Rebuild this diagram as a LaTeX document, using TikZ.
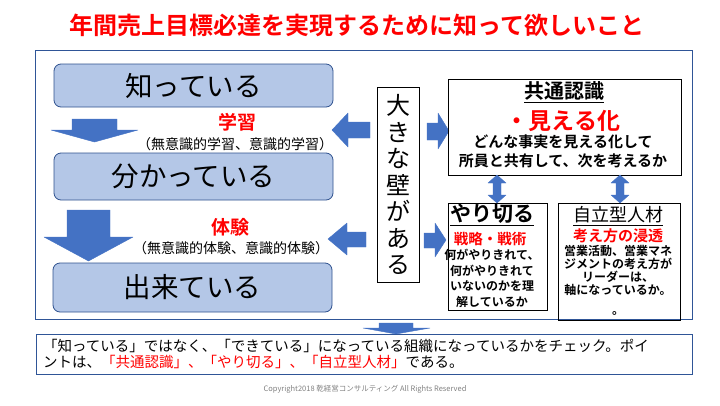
\documentclass[tikz,border=0pt]{standalone}
\usepackage{fontspec}
\setmainfont{Noto Sans CJK JP}[BoldFont={Noto Sans CJK JP Bold}]
\usepackage{tikz}
\definecolor{boxblue}{HTML}{B4C7E7}
\definecolor{lineblue}{HTML}{2F528F}
\definecolor{arrowblue}{HTML}{4472C4}
\definecolor{frameblue}{HTML}{2F5597}

\begin{document}
\begin{tikzpicture}[x=1pt, y=-1pt,
	stagebox/.style={draw=lineblue, line width=0.8pt, rounded corners=7pt, fill=boxblue, minimum width=279pt, inner sep=0pt, font=\fontsize{27.5}{30}\selectfont},
	plainbox/.style={draw=black, line width=0.9pt, inner sep=0pt},
	blockarrow/.style={fill=arrowblue, draw=arrowblue, line width=0.4pt, line join=round},
	redtext/.style={text=red, inner sep=0pt, font=\bfseries\fontsize{#1}{#1}\selectfont},
	bodytext/.style={inner sep=0pt, align=center}]
	\useasboundingbox (0,0) rectangle (720,405);

	% title and frame
	\node[redtext=24] (title) at (357,25) {年間売上目標必達を実現するために知って欲しいこと};
	\draw[frameblue, line width=1pt] (35,50) rectangle (692,319);

	% left column
	\node[stagebox, minimum height=43pt] (know) at (193.5,85.5) {知っている};
	\node[stagebox, minimum height=47pt] (understand) at (193.5,176.5) {分かっている};
	\node[stagebox, minimum height=49pt] (can) at (192.5,287.5) {出来ている};

	\node[redtext=19] (learn) at (237,122) {学習};
	\node[inner sep=0pt, font=\fontsize{14}{16}\selectfont] (learnsub) at (235,144) {（無意識的学習、意識的学習）};
	\node[redtext=19] (exp) at (230,227) {体験};
	\node[inner sep=0pt, font=\fontsize{14}{16}\selectfont] (expsub) at (231,248) {（無意識的体験、意識的体験）};

	\fill[blockarrow] (72,119) -- (117,119) -- (117,130) -- (138,130) -- (94.5,142) -- (51,130) -- (72,130) -- cycle;
	\fill[blockarrow] (67,210) -- (110,210) -- (110,237) -- (133,237) -- (88.5,261) -- (44,237) -- (67,237) -- cycle;

	% the wall
	\node[plainbox, minimum width=42pt, minimum height=195pt, align=center, font=\fontsize{24}{26.5}\selectfont] (wall) at (398,184.5) {大\\き\\な\\壁\\が\\あ\\る};

	\fill[blockarrow] (370,122) -- (348,122) -- (348,113) -- (332,130) -- (348,147) -- (348,138) -- (370,138) -- cycle;
	\fill[blockarrow] (366,232) -- (347,232) -- (347,223) -- (328,239) -- (347,255) -- (347,247) -- (366,247) -- cycle;
	\fill[blockarrow] (427,123) -- (438,123) -- (438,113) -- (449,131) -- (438,149) -- (438,140) -- (427,140) -- cycle;
	\fill[blockarrow] (424,233) -- (435,233) -- (435,223) -- (446,240) -- (435,257) -- (435,248) -- (424,248) -- cycle;

	% right column
	\node[plainbox, minimum width=233pt, minimum height=96pt] (common) at (564.5,127) {};
	\node[inner sep=0pt, font=\bfseries\fontsize{20}{22}\selectfont] (commonhead) at (564,92) {\underline{共通認識}};
	\node[redtext=23] (visible) at (563,121) {・見える化};
	\node[bodytext, font=\bfseries\fontsize{15}{19}\selectfont] (commontext) at (563,151.5) {どんな事実を見える化して\\所員と共有して、次を考えるか};

	\node[plainbox, minimum width=99pt, minimum height=107pt] (doit) at (497.5,256.5) {};
	\node[inner sep=0pt, font=\bfseries\fontsize{21}{23}\selectfont] (doithead) at (492,215) {\underline{やり切る}};
	\node[redtext=14.5] (strategy) at (490,238.5) {戦略・戦術};
	\node[bodytext, font=\bfseries\fontsize{12}{15.5}\selectfont] (doittext) at (492,278.5) {何がやりきれて、\\何がやりきれて\\いないのかを理\\解しているか};

	\node[plainbox, minimum width=122pt, minimum height=117pt] (self) at (619,261.5) {};
	\node[inner sep=0pt, font=\fontsize{18}{20}\selectfont] (selfhead) at (618,216) {\underline{自立型人材}};
	\node[redtext=15] (spread) at (618,236) {考え方の浸透};
	\node[bodytext, anchor=north, font=\bfseries\fontsize{12}{13}\selectfont] (selftext) at (618,245.5) {営業活動、営業マネ\\ジメントの考え方が\\リーダーは、\\軸になっているか。\\[7pt]。};

	\fill[blockarrow] (497,175) -- (506,183) -- (501,183) -- (501,195) -- (506,195) -- (497,203) -- (488,195) -- (493,195) -- (493,183) -- (488,183) -- cycle;
	\fill[blockarrow] (620,175) -- (629,183) -- (624,183) -- (624,195) -- (629,195) -- (620,203) -- (611,195) -- (616,195) -- (616,183) -- (611,183) -- cycle;

	% summary
	\fill[blockarrow] (379,323) -- (413,323) -- (413,328) -- (430,328) -- (396,334) -- (363,328) -- (379,328) -- cycle;
	\draw[frameblue, line width=1pt] (36,334) rectangle (692,374);
	\node[anchor=west, inner sep=0pt, align=left, font=\fontsize{14.5}{16}\selectfont] (summary) at (43,354) {「知っている」ではなく、「できている」になっている組織になっているかをチェック。ポイ\\ントは、{\color{red}「共通認識」、「やり切る」、「自立型人材」}である。};

	\node[inner sep=0pt, text=gray, font=\fontsize{7.5}{9}\selectfont] (copy) at (365,389) {Copyright2018 乾経営コンサルティング All Rights Reserved};
\end{tikzpicture}
\end{document}
